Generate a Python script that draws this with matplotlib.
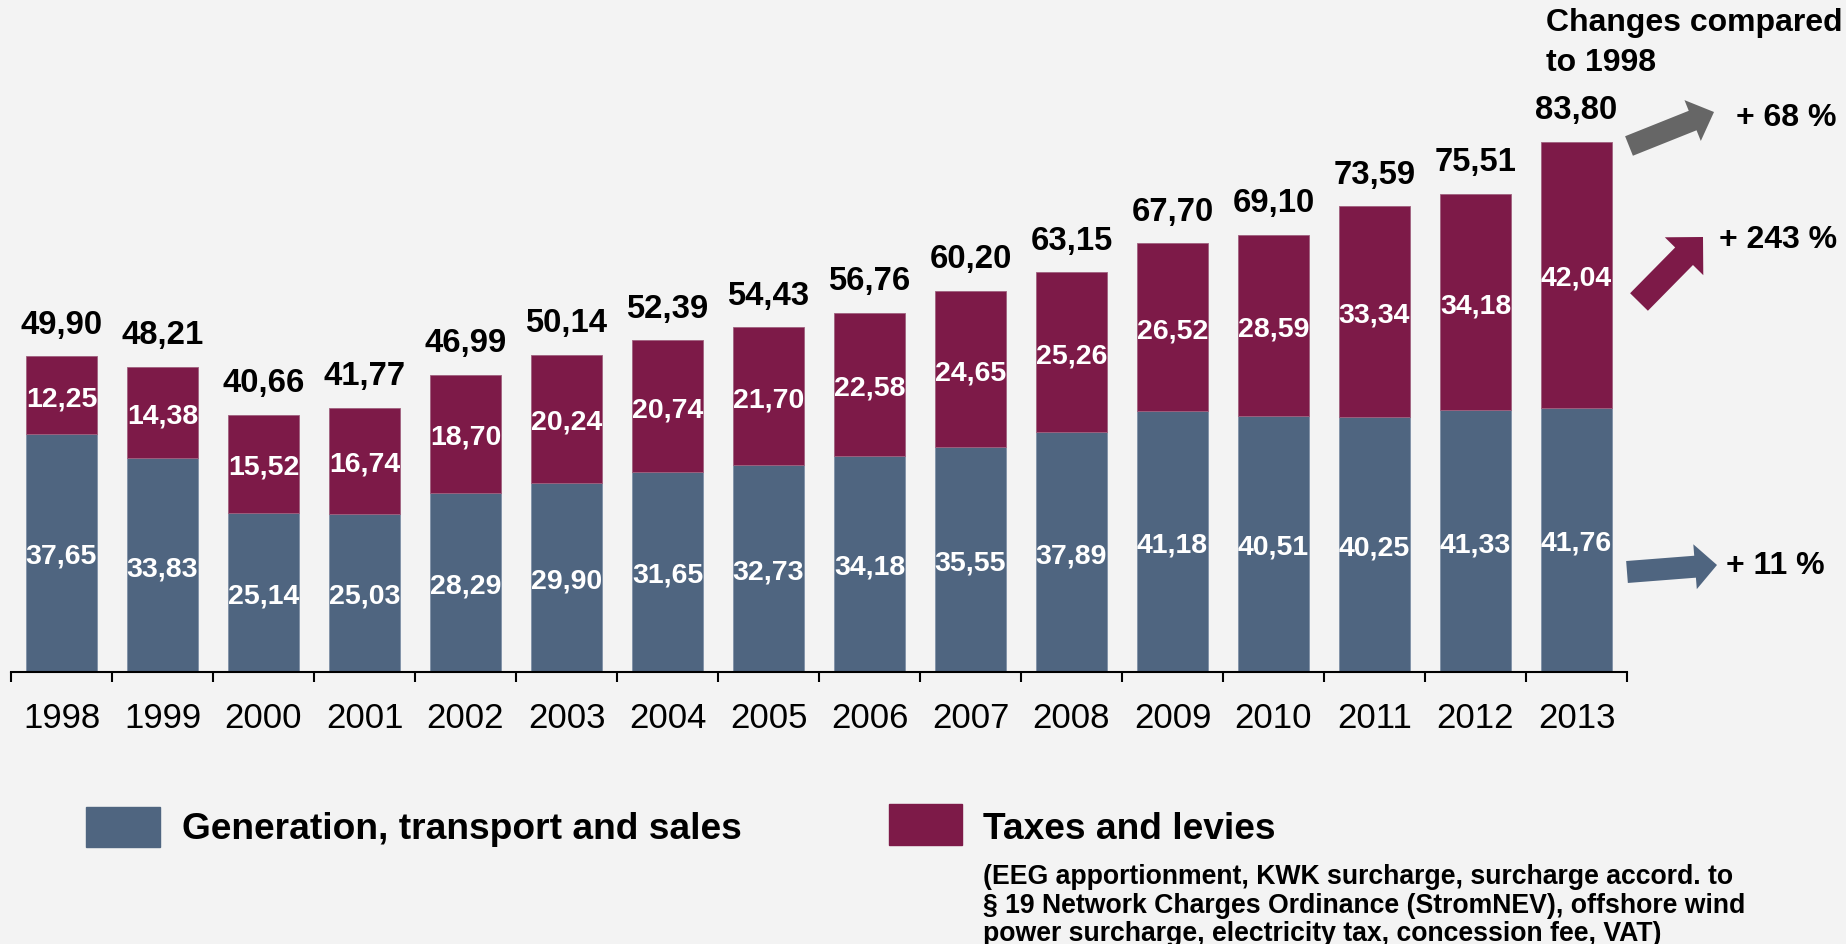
import numpy as np
import matplotlib
matplotlib.use("Agg")
import matplotlib.pyplot as plt
import matplotlib.patches as mpatches

years = ["1998", "1999", "2000", "2001", "2002", "2003", "2004", "2005",
         "2006", "2007", "2008", "2009", "2010", "2011", "2012", "2013"]
generation = [37.65, 33.83, 25.14, 25.03, 28.29, 29.90, 31.65, 32.73,
              34.18, 35.55, 37.89, 41.18, 40.51, 40.25, 41.33, 41.76]
taxes = [12.25, 14.38, 15.52, 16.74, 18.70, 20.24, 20.74, 21.70,
         22.58, 24.65, 25.26, 26.52, 28.59, 33.34, 34.18, 42.04]
totals = [49.90, 48.21, 40.66, 41.77, 46.99, 50.14, 52.39, 54.43,
          56.76, 60.20, 63.15, 67.70, 69.10, 73.59, 75.51, 83.80]
changes = ["+ 68 %", "+ 243 %", "+ 11 %"]

BLUE = "#4f6580"
MAROON = "#7d1a48"
GREY = "#666666"
BG = "#f3f3f3"

plt.rcParams['font.family'] = ['Liberation Sans', 'DejaVu Sans']

W, H = 1846, 945
fig = plt.figure(figsize=(W / 100, H / 100), dpi=100, facecolor=BG)

def px(x, y):
    # pixel position (from top left) -> figure fraction
    return x / W, 1 - y / H

ax = fig.add_axes([11 / W, (H - 673) / H, 1616 / W, 633 / H])
ax.set_facecolor(BG)

x = np.arange(len(years))
ax.bar(x, generation, width=0.71, color=BLUE, edgecolor="#7f90a6", linewidth=0.6)
ax.bar(x, taxes, width=0.71, bottom=generation, color=MAROON,
       edgecolor="#a0607e", linewidth=0.6)

fmt = lambda v: f"{v:.2f}".replace(".", ",")

for i in range(len(years)):
    ax.annotate(fmt(generation[i]), (x[i], generation[i] / 2), xytext=(0, -7.3),
                textcoords="offset points", ha="center", va="baseline",
                color="white", fontsize=20.5, fontweight="bold")
    ax.annotate(fmt(taxes[i]), (x[i], generation[i] + taxes[i] / 2), xytext=(0, -7.3),
                textcoords="offset points", ha="center", va="baseline",
                color="white", fontsize=20.5, fontweight="bold")
    ax.annotate(fmt(totals[i]), (x[i], totals[i]), xytext=(0, 17),
                textcoords="offset points", ha="center", va="baseline",
                color="black", fontsize=23.7, fontweight="bold")

ax.set_xlim(-0.5, len(years) - 0.5)
ax.set_ylim(0, 100)
for s in ["top", "right", "left"]:
    ax.spines[s].set_visible(False)
ax.spines["bottom"].set_linewidth(1.5)
ax.set_yticks([])
ax.set_xticks(np.arange(-0.5, len(years), 1))
ax.set_xticklabels([])
ax.tick_params(axis="x", which="major", direction="out", length=7.2, width=1.5)
ax.set_xticks(x, minor=True)
ax.set_xticklabels(years, minor=True, fontsize=25)
ax.tick_params(axis="x", which="minor", length=0, pad=21)

# legend drawn by hand
fig.patches.append(mpatches.Rectangle(px(86, 848), 74 / W, 40 / H,
                                      transform=fig.transFigure, color=BLUE))
fig.patches.append(mpatches.Rectangle(px(889, 846), 73 / W, 41 / H,
                                      transform=fig.transFigure, color=MAROON))
fig.text(*px(182, 830), "Generation, transport and sales", fontsize=26.7,
         fontweight="bold", va="center", ha="left")
fig.text(*px(983, 830), "Taxes and levies", fontsize=26.7,
         fontweight="bold", va="center", ha="left")
fig.text(*px(983, 864),
         "(EEG apportionment, KWK surcharge, surcharge accord. to\n"
         "\u00a7 19 Network Charges Ordinance (StromNEV), offshore wind\n"
         "power surcharge, electricity tax, concession fee, VAT)",
         fontsize=19.2, fontweight="bold", va="top", ha="left", linespacing=1.13)

# change arrows on the right
fig.text(*px(1546, 43), "Changes compared\nto 1998", fontsize=23,
         fontweight="bold", va="center", ha="left", linespacing=1.4)

ov = fig.add_axes([0, 0, 1, 1])
ov.set_xlim(0, W)
ov.set_ylim(H, 0)
ov.axis("off")
ov.patch.set_alpha(0)

def arrow(x0, y0, x1, y1, w, hw, hl, c):
    ov.add_patch(mpatches.FancyArrow(x0, y0, x1 - x0, y1 - y0, width=w,
                                     head_width=hw, head_length=hl,
                                     length_includes_head=True, color=c, lw=0))

arrow(1629, 147, 1714, 113, 21, 44, 23, GREY)
arrow(1639, 303, 1703, 238, 25, 54, 27, MAROON)
arrow(1627, 573, 1717, 566, 22, 45, 22, BLUE)

fig.text(*px(1836, 118), changes[0], fontsize=23, fontweight="bold",
         va="center", ha="right")
fig.text(*px(1837, 240), changes[1], fontsize=23, fontweight="bold",
         va="center", ha="right")
fig.text(*px(1825, 566), changes[2], fontsize=23, fontweight="bold",
         va="center", ha="right")

fig.savefig("out.png", dpi=100, facecolor=BG)
